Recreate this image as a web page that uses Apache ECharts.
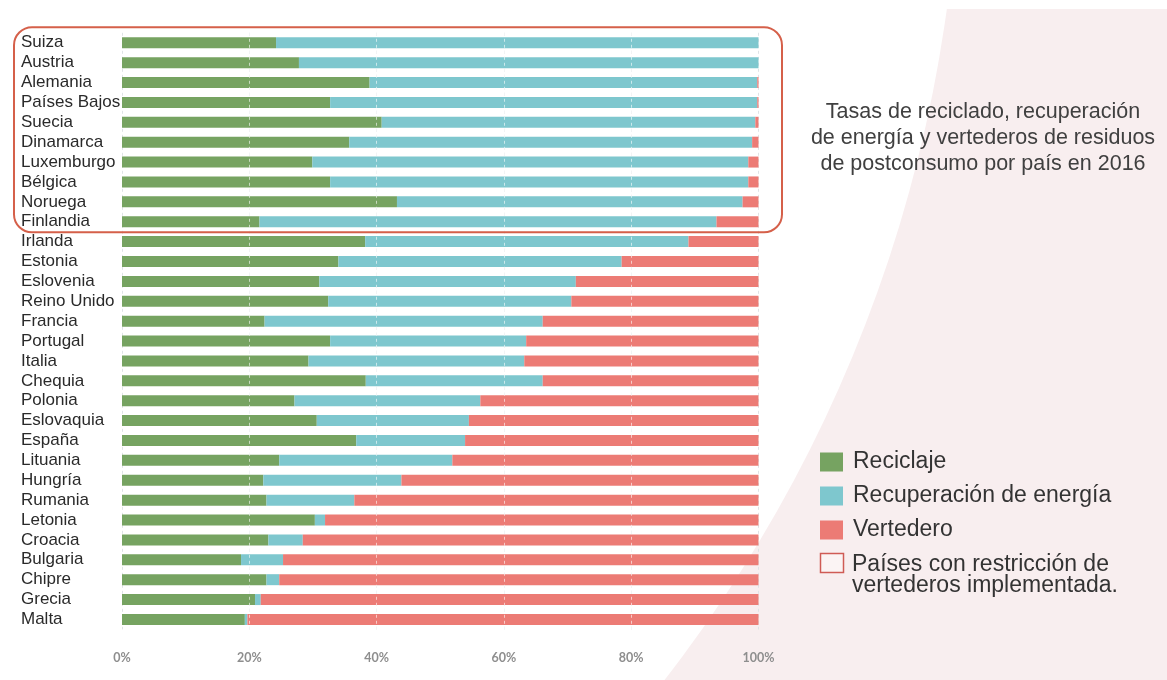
<!DOCTYPE html>
<html>
<head>
<meta charset="utf-8">
<script src="https://cdn.jsdelivr.net/npm/echarts@6/dist/echarts.min.js"></script>
<style>
html,body{margin:0;padding:0;background:#ffffff;}
#chart{width:1167px;height:680px;}
</style>
</head>
<body>
<div id="chart"></div>
<script>
// ---- Data (percent of post-consumer waste, 2016) ----
const categories = ['Suiza','Austria','Alemania','Países Bajos','Suecia','Dinamarca','Luxemburgo','Bélgica','Noruega','Finlandia',
  'Irlanda','Estonia','Eslovenia','Reino Unido','Francia','Portugal','Italia','Chequia','Polonia','Eslovaquia',
  'España','Lituania','Hungría','Rumania','Letonia','Croacia','Bulgaria','Chipre','Grecia','Malta'];
const reciclaje = [24.2,27.8,38.9,32.7,40.8,35.7,29.9,32.7,43.2,21.6,
  38.2,34.0,31.0,32.4,22.4,32.7,29.3,38.3,27.1,30.6,
  36.8,24.7,22.2,22.7,30.3,23.0,18.7,22.7,20.9,19.3];
const recuperacion = [75.8,72.2,60.9,67.1,58.7,63.3,68.5,65.7,54.3,71.8,
  50.8,44.5,40.3,38.2,43.7,30.8,33.9,27.8,29.2,23.9,
  17.1,27.2,21.7,13.8,1.6,5.4,6.6,2.0,0.9,0.4];
const vertedero = [0,0,0.2,0.2,0.5,1.0,1.6,1.6,2.5,6.6,
  11.0,21.5,28.7,29.4,33.9,36.5,36.8,33.9,43.7,45.5,
  46.1,48.1,56.1,63.5,68.1,71.6,74.7,75.3,78.2,80.3];
const restrictedCountries = ['Suiza','Austria','Alemania','Países Bajos','Suecia','Dinamarca','Luxemburgo','Bélgica','Noruega','Finlandia'];
const tickLabels = ['0%','20%','40%','60%','80%','100%'];
const seriesNames = ['Reciclaje','Recuperación de energía','Vertedero'];
const restrictionLabel = 'Países con restricción de\nvertederos implementada.';
const titleText = 'Tasas de reciclado, recuperación\nde energía y vertederos de residuos\nde postconsumo por país en 2016';

const colors = ['#76a361','#7ec7ce','#ec7b75'];
const SANS = '"Liberation Sans", Arial, sans-serif';

const chart = echarts.init(document.getElementById('chart'));

const option = {
  animation: false,
  backgroundColor: '#ffffff',
  color: colors,
  grid: { left: 122, right: 408.5, top: 32.8, bottom: 50.6, containLabel: false },
  legend: {
    orient: 'vertical',
    left: 820,
    top: 450.5,
    padding: 0,
    itemWidth: 23,
    itemHeight: 19,
    itemGap: 11,
    icon: 'rect',
    selectedMode: false,
    data: seriesNames,
    textStyle: { fontSize: 23, color: '#333', fontFamily: SANS, padding: [0,0,0,5] }
  },
  xAxis: {
    type: 'value', min: 0, max: 100, interval: 20,
    axisLine: { show: false }, axisTick: { show: false },
    axisLabel: {
      margin: 22, color: '#8e8e8e', fontSize: 12.5, fontFamily: 'Lato, "Open Sans", sans-serif', fontWeight: 'bold',
      formatter: v => tickLabels[Math.round(v / 20)]
    },
    splitLine: { show: true, lineStyle: { color: '#dfe3e6', type: [3, 3], width: 1 } }
  },
  yAxis: {
    type: 'category', data: categories, inverse: true,
    axisLine: { show: false }, axisTick: { show: false },
    axisLabel: { interval: 0, align: 'left', margin: 101, color: '#2a2a2a', fontSize: 17, fontFamily: SANS }
  },
  series: [
    { name: seriesNames[0], type: 'bar', stack: 'total', barWidth: 11, data: reciclaje },
    { name: seriesNames[1], type: 'bar', stack: 'total', barWidth: 11, data: recuperacion },
    { name: seriesNames[2], type: 'bar', stack: 'total', barWidth: 11, data: vertedero,
      markLine: {
        silent: true, symbol: 'none', label: { show: false },
        lineStyle: { color: 'rgba(255,255,255,0.6)', type: [3, 3], width: 1 },
        data: [{ xAxis: 20 }, { xAxis: 40 }, { xAxis: 60 }, { xAxis: 80 }]
      }
    }
  ],
  graphic: []
};
chart.setOption(option);

// Decorations positioned relative to the chart's own scales
const topC = chart.convertToPixel({ yAxisIndex: 0 }, restrictedCountries[0]);
const botC = chart.convertToPixel({ yAxisIndex: 0 }, restrictedCountries[restrictedCountries.length - 1]);
const x100 = chart.convertToPixel({ xAxisIndex: 0 }, 100);

chart.setOption({
  graphic: [
    { type: 'rect', z: -20, silent: true, shape: { x: 0, y: 9, width: 1167, height: 671 }, style: { fill: '#f8eeef' } },
    { type: 'circle', z: -19, silent: true, shape: { cx: -448, cy: -183, r: 1408 }, style: { fill: '#ffffff' } },
    { type: 'rect', z: 10, silent: true,
      shape: { x: 14, y: topC - 15.5, width: x100 + 23.5 - 14, height: (botC + 10.5) - (topC - 15.5), r: 18 },
      style: { fill: 'none', stroke: '#d5604a', lineWidth: 2 } },
    { type: 'text', z: 10, silent: true, x: 983, y: 99,
      style: { text: titleText, font: '21.5px ' + SANS, fill: '#404040', textAlign: 'center', lineHeight: 26 } },
    { type: 'rect', z: 10, silent: true, shape: { x: 820.5, y: 553.5, width: 23, height: 19 },
      style: { fill: '#fbf4f4', stroke: '#cf5b55', lineWidth: 1.5 } },
    { type: 'text', z: 10, silent: true, x: 852, y: 554,
      style: { text: restrictionLabel, font: '23px ' + SANS, fill: '#333', lineHeight: 21 } }
  ]
});
</script>
</body>
</html>
